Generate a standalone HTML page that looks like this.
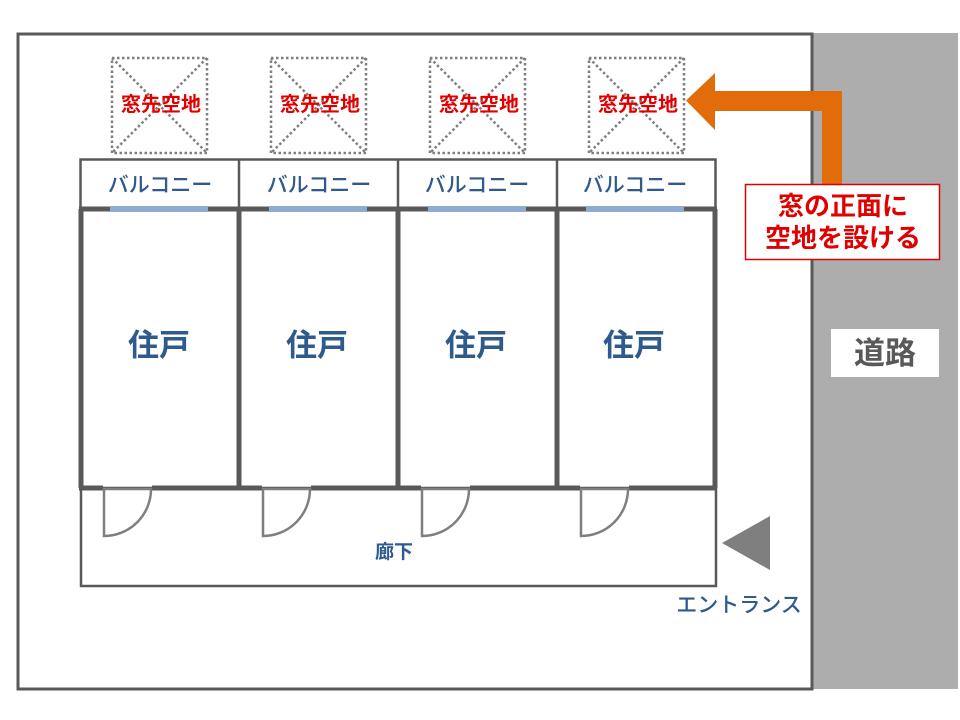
<!DOCTYPE html>
<html><head><meta charset="utf-8"><style>
html,body{margin:0;padding:0;background:#fff;}
svg{display:block;}
text{font-family:"Liberation Sans","Noto Sans CJK JP",sans-serif;font-weight:bold;}
</style></head><body>
<svg width="960" height="720" viewBox="0 0 960 720" xmlns="http://www.w3.org/2000/svg">
<rect x="0" y="0" width="960" height="720" fill="#fff"/>
<rect x="812" y="33" width="146" height="656" fill="#ADADAD"/>
<rect x="18" y="34" width="794" height="655" fill="none" stroke="#595959" stroke-width="3"/>
<rect x="831" y="329" width="108" height="48" fill="#fff"/>
<text x="885" y="364" font-size="31" fill="#595959" text-anchor="middle">道路</text>

<g stroke="#7F7F7F" stroke-width="2.5" stroke-dasharray="2.5 2.5" fill="none">
<rect x="112" y="58" width="95" height="95"/><path d="M112 58L207 153M207 58L112 153"/>
<rect x="271" y="58" width="95" height="95"/><path d="M271 58L366 153M366 58L271 153"/>
<rect x="430" y="58" width="95" height="95"/><path d="M430 58L525 153M525 58L430 153"/>
<rect x="589" y="58" width="95" height="95"/><path d="M589 58L684 153M684 58L589 153"/>
</g>
<g font-size="20" fill="#E00000" text-anchor="middle">
<text x="161" y="111">窓先空地</text>
<text x="320" y="111">窓先空地</text>
<text x="479" y="111">窓先空地</text>
<text x="638" y="111">窓先空地</text>
</g>

<g stroke="#595959" stroke-width="2.5" fill="none">
<rect x="80.5" y="159.5" width="635" height="50"/>
<path d="M239 159V209M398 159V209M557 159V209"/>
</g>
<g font-size="21" fill="#2E5A8C" text-anchor="middle">
<text x="160" y="192" style="font-weight:500">バルコニー</text>
<text x="319" y="192" style="font-weight:500">バルコニー</text>
<text x="477" y="192" style="font-weight:500">バルコニー</text>
<text x="635" y="192" style="font-weight:500">バルコニー</text>
</g>

<rect x="81" y="488" width="635" height="98" fill="none" stroke="#595959" stroke-width="2.5"/>

<g stroke="#595959" stroke-width="5" fill="none">
<path d="M81 209V488M239 209V488M398 209V488M557 209V488M715 209V488"/>
<path d="M79 209H717"/>
<path d="M79 488H103M152 488H262M311 488H421M470 488H580M629 488H717"/>
</g>
<g fill="#8FABD0">
<rect x="110" y="206" width="98" height="6"/>
<rect x="269" y="206" width="98" height="6"/>
<rect x="428" y="206" width="98" height="6"/>
<rect x="586" y="206" width="98" height="6"/>
</g>
<g stroke="#7F7F7F" stroke-width="2.5" fill="none">
<path d="M104 489H151A47 47 0 0 1 104 536Z"/>
<path d="M263 489H310A47 47 0 0 1 263 536Z"/>
<path d="M422 489H469A47 47 0 0 1 422 536Z"/>
<path d="M581 489H628A47 47 0 0 1 581 536Z"/>
</g>
<g font-size="31" fill="#2E5A8C" text-anchor="middle">
<text x="159" y="356">住戸</text>
<text x="317" y="356">住戸</text>
<text x="476" y="356">住戸</text>
<text x="634" y="356">住戸</text>
</g>
<text x="394" y="558" font-size="19" fill="#2E5A8C" text-anchor="middle">廊下</text>
<polygon points="722,543 770,516 770,570" fill="#7F7F7F"/>
<text x="739" y="612" font-size="21" fill="#2E5A8C" text-anchor="middle" style="font-weight:500">エントランス</text>

<path d="M842 91V190H822V111H715V130L686 100.5L715 73V91Z" fill="#E36C0A"/>
<rect x="745.5" y="184.5" width="194" height="75" fill="#fff" stroke="#E00000" stroke-width="1.5"/>
<g font-size="26" fill="#E00000" text-anchor="middle">
<text x="843" y="215">窓の正面に</text>
<text x="843" y="247">空地を設ける</text>
</g>
</svg>
</body></html>
